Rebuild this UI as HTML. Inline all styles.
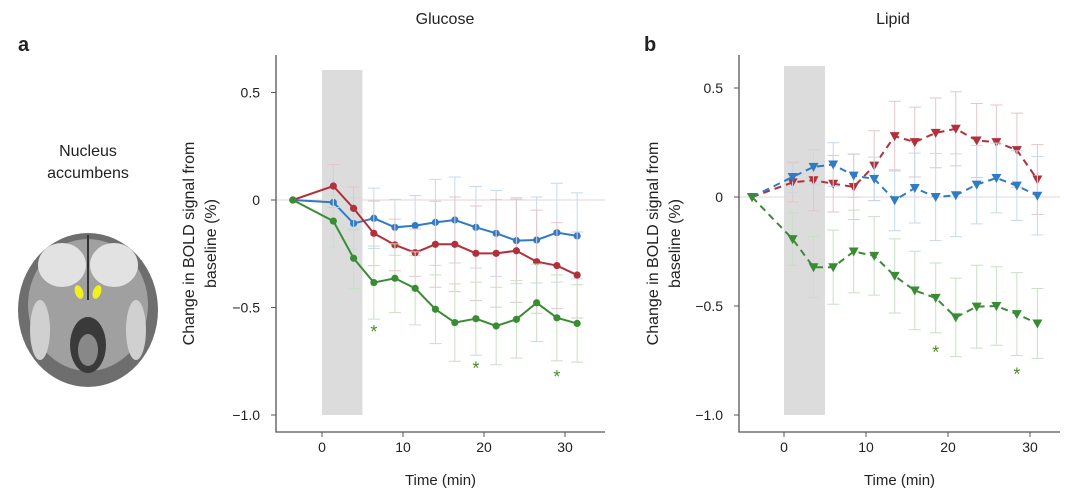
<!DOCTYPE html>
<html><head><meta charset="utf-8"><style>
body{margin:0;background:#fff;width:1080px;height:499px;overflow:hidden;font-family:"Liberation Sans",sans-serif}
svg text{font-family:"Liberation Sans",sans-serif;fill:#222}
</style></head><body>
<svg id="s" width="1080" height="499" viewBox="0 0 1080 499">
<text x="18" y="51" font-size="20" font-weight="bold">a</text>
<text x="644" y="51" font-size="20" font-weight="bold">b</text>
<text x="445" y="24" font-size="16" text-anchor="middle">Glucose</text>
<text x="893" y="24" font-size="16" text-anchor="middle">Lipid</text>
<text x="88" y="156" font-size="16" text-anchor="middle"><tspan x="88">Nucleus</tspan><tspan x="88" dy="22">accumbens</tspan></text>
<g>
<ellipse cx="88" cy="310" rx="70" ry="77" fill="#6e6e6e"/>
<ellipse cx="88" cy="305" rx="60" ry="66" fill="#a0a0a0"/>
<ellipse cx="62" cy="265" rx="24" ry="22" fill="#e2e2e2"/>
<ellipse cx="114" cy="265" rx="24" ry="22" fill="#e2e2e2"/>
<ellipse cx="40" cy="330" rx="10" ry="30" fill="#d0d0d0"/>
<ellipse cx="136" cy="330" rx="10" ry="30" fill="#d0d0d0"/>
<ellipse cx="88" cy="345" rx="18" ry="28" fill="#3a3a3a"/>
<ellipse cx="88" cy="350" rx="10" ry="16" fill="#888"/>
<line x1="88" y1="235" x2="88" y2="300" stroke="#333" stroke-width="2"/>
<ellipse cx="79" cy="292" rx="4" ry="7" fill="#f2ef1a" transform="rotate(-20 79 292)"/>
<ellipse cx="97" cy="292" rx="4" ry="7" fill="#f2ef1a" transform="rotate(20 97 292)"/>
</g>
</svg>
<script>
const leftTimes=[-3.6,1.4,3.9,6.4,9,11.5,14,16.4,19,21.5,24,26.5,29,31.5];
const leftBlue=[0,-0.011,-0.109,-0.085,-0.127,-0.119,-0.104,-0.093,-0.127,-0.155,-0.189,-0.186,-0.152,-0.167];
const leftRed=[0,0.065,-0.039,-0.155,-0.209,-0.245,-0.206,-0.206,-0.248,-0.248,-0.236,-0.287,-0.305,-0.349];
const leftGreen=[0,-0.098,-0.271,-0.384,-0.364,-0.411,-0.508,-0.570,-0.552,-0.586,-0.555,-0.478,-0.548,-0.574];
const leftBlueErr=[0,0.1,0.12,0.14,0.13,0.14,0.2,0.2,0.19,0.2,0.2,0.2,0.23,0.2];
const leftRedErr=[0,0.1,0.1,0.15,0.12,0.11,0.2,0.22,0.22,0.25,0.24,0.24,0.2,0.2];
const leftGreenErr=[0,0.12,0.14,0.17,0.16,0.17,0.16,0.18,0.17,0.18,0.18,0.18,0.2,0.18];
const rightTimes=[-3.9,1.05,3.6,6,8.5,11,13.5,15.95,18.5,20.95,23.5,25.9,28.4,30.9];
const rightRed=[0,0.067,0.077,0.061,0.046,0.144,0.279,0.252,0.294,0.313,0.259,0.252,0.215,0.08];
const rightBlue=[0,0.092,0.138,0.149,0.098,0.083,-0.015,0.041,0,0.008,0.057,0.087,0.052,0.006];
const rightGreen=[0,-0.193,-0.322,-0.322,-0.25,-0.27,-0.362,-0.429,-0.463,-0.552,-0.503,-0.5,-0.537,-0.58];
const rightRedErr=[0,0.09,0.14,0.13,0.15,0.16,0.16,0.16,0.16,0.17,0.17,0.17,0.17,0.16];
const rightBlueErr=[0,0.07,0.08,0.1,0.1,0.1,0.14,0.16,0.2,0.19,0.18,0.16,0.16,0.18];
const rightGreenErr=[0,0.12,0.14,0.17,0.19,0.18,0.17,0.18,0.16,0.18,0.19,0.18,0.19,0.16];
const yTicks=[0.5,0,-0.5,-1.0];
const yTickLabels=["0.5","0","\u22120.5","\u22121.0"];
const xTicks=[0,10,20,30];
const leftStars=[[6.4,-0.6],[19,-0.77],[29,-0.81]];
const rightStars=[[18.5,-0.7],[28.4,-0.8]];
const NS="http://www.w3.org/2000/svg";
const svg=document.getElementById('s');
function mk(tag,attrs,parent){const e=document.createElementNS(NS,tag);for(const k in attrs)e.setAttribute(k,attrs[k]);(parent||svg).appendChild(e);return e;}
function panel(cfg){
 const X=t=>cfg.x0+t*cfg.px,Y=v=>cfg.y0-v*cfg.py;
 const g=mk('g',{});
 
 
 const sh=mk('rect',{x:X(0),y:cfg.shTop,width:X(5)-X(0),height:Y(-1)-cfg.shTop,fill:'#dcdcdc'},g);
 
 
 const zl=mk('line',{x1:cfg.axL,x2:cfg.axR,y1:Y(0),y2:Y(0),stroke:'#e3d6d8','stroke-width':1},g);
 
 
 const ax=mk('path',{d:`M${cfg.axL} ${cfg.axT}V${cfg.axB}H${cfg.axR}`,fill:'none',stroke:'#555','stroke-width':1.3},g);
 
 
 yTicks.forEach((v,i)=>{mk('line',{x1:cfg.axL-5,x2:cfg.axL,y1:Y(v),y2:Y(v),stroke:'#555'},g);
  const t=mk('text',{x:cfg.axL-16,y:Y(v)+5,'font-size':14,'text-anchor':'end'},g);t.textContent=yTickLabels[i];
  
  });
 xTicks.forEach(v=>{mk('line',{x1:X(v),x2:X(v),y1:cfg.axB,y2:cfg.axB+5,stroke:'#555'},g);
  const t=mk('text',{x:X(v),y:cfg.axB+20,'font-size':14,'text-anchor':'middle'},g);t.textContent=v;
  
  });
 const xl=mk('text',{x:(cfg.axL+cfg.axR)/2,y:485,'font-size':15,'text-anchor':'middle'},g);xl.textContent='Time (min)';
 
 
 const yl=mk('text',{transform:`translate(${cfg.ylx},${(cfg.axT+cfg.axB)/2}) rotate(-90)`,'font-size':16,'text-anchor':'middle'},g);
 yl.innerHTML='<tspan x="0" y="0">Change in BOLD signal from</tspan><tspan x="0" dy="22">baseline (%)</tspan>';
 
 
 cfg.series.forEach(s=>{
  const sg=mk('g',{},g);
  
  
  cfg.times.forEach((t,i)=>{if(!s.err[i])return;const x=X(t),a=Y(s.v[i]+s.err[i]),b=Y(s.v[i]-s.err[i]);
   mk('path',{d:`M${x} ${a}V${b}M${x-6} ${a}h12M${x-6} ${b}h12`,stroke:s.light,'stroke-width':1,fill:'none'},sg);});
  mk('polyline',{points:cfg.times.map((t,i)=>X(t)+','+Y(s.v[i])).join(' '),fill:'none',stroke:s.c,'stroke-width':2,'stroke-dasharray':cfg.dash},sg);
  cfg.times.forEach((t,i)=>{const x=X(t),y=Y(s.v[i]);
   if(cfg.tri)mk('path',{d:`M${x-5} ${y-4}h10l-5 9z`,fill:s.c},sg);else mk('circle',{cx:x,cy:y,r:3.6,fill:s.c},sg);});
 });
 cfg.stars.forEach(p=>{const t=mk('text',{x:X(p[0]),y:Y(p[1])+9,'font-size':18,'text-anchor':'middle',style:'fill:#4a8a2a'},g);t.textContent='*';
  
  });
}
panel({name:'glucose-chart',x0:322,px:8.1,y0:200,py:215,axL:276,axR:605,axT:55,axB:432,shTop:70,ylx:194,times:leftTimes,dash:'',tri:false,stars:leftStars,
 series:[{name:'series-blue',v:leftBlue,err:leftBlueErr,c:'#2f7cc4',light:'#c6d9ea'},{name:'series-red',v:leftRed,err:leftRedErr,c:'#b2303a',light:'#e4c6c9'},{name:'series-green',v:leftGreen,err:leftGreenErr,c:'#3a8c34',light:'#c9dfc7'}]});
panel({name:'lipid-chart',x0:784,px:8.2,y0:197,py:218,axL:739,axR:1060,axT:55,axB:432,shTop:66,ylx:658,times:rightTimes,dash:'7 5',tri:true,stars:rightStars,
 series:[{name:'series-red',v:rightRed,err:rightRedErr,c:'#b2303a',light:'#e4c6c9'},{name:'series-blue',v:rightBlue,err:rightBlueErr,c:'#2f7cc4',light:'#c6d9ea'},{name:'series-green',v:rightGreen,err:rightGreenErr,c:'#3a8c34',light:'#c9dfc7'}]});
</script>
</body></html>
